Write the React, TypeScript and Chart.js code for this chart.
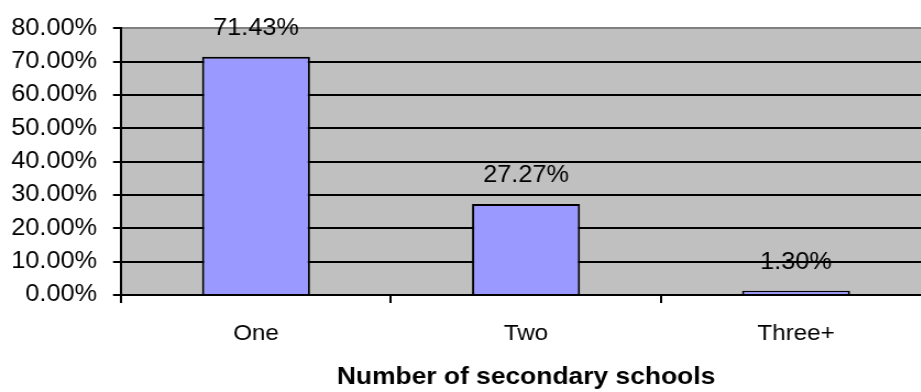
import React, { useEffect, useRef } from "react";
import { Chart, registerables } from "chart.js";

Chart.register(...registerables);

const categories: string[] = ["One", "Two", "Three+"];
const shares: number[] = [0.7143, 0.2727, 0.013];
const valueLabels: string[] = ["71.43%", "27.27%", "1.30%"];
const axisTitle = "Number of secondary schools";

// The chart is drawn on a narrower canvas and widened with a horizontal stretch.
const STRETCH = 1.1;
const CANVAS_W = Math.round(940 / STRETCH);
const CANVAS_H = 392;
const PLOT_LEFT = 121 / STRETCH;
const PLOT_RIGHT = 931 / STRETCH;
const PLOT_TOP = 20;
const PLOT_BOTTOM = 295;
const FONT = "'Liberation Sans', Arial, sans-serif";

// Grey plot background behind the bars
const plotBackground = {
  id: "plotBackground",
  beforeDraw(chart: any) {
    const { ctx, chartArea } = chart;
    ctx.save();
    ctx.fillStyle = "#C0C0C0";
    ctx.fillRect(chartArea.left, chartArea.top, chartArea.right - chartArea.left, chartArea.bottom - chartArea.top);
    ctx.restore();
  },
};

// Percentage labels above each bar
const valueLabelPlugin = {
  id: "valueLabels",
  afterDatasetsDraw(chart: any) {
    const { ctx } = chart;
    const meta = chart.getDatasetMeta(0);
    ctx.save();
    ctx.fillStyle = "#000";
    ctx.font = `23px ${FONT}`;
    ctx.textAlign = "center";
    ctx.textBaseline = "middle";
    meta.data.forEach((bar: any, i: number) => {
      ctx.fillText(valueLabels[i], bar.x, bar.y - 28);
    });
    ctx.restore();
  },
};

export default function App() {
  const ref = useRef<HTMLCanvasElement | null>(null);

  useEffect(() => {
    if (!ref.current) return;
    const chart = new Chart(ref.current, {
      type: "bar",
      data: {
        labels: categories,
        datasets: [
          {
            data: shares,
            backgroundColor: "#9999FF",
            borderColor: "#000",
            borderWidth: 2,
            categoryPercentage: 1,
            barPercentage: 0.4,
          },
        ],
      },
      plugins: [plotBackground, valueLabelPlugin],
      options: {
        responsive: false,
        animation: false,
        layout: { padding: { top: PLOT_TOP, right: CANVAS_W - PLOT_RIGHT, left: 0, bottom: 0 } },
        plugins: { legend: { display: false }, tooltip: { enabled: false }, title: { display: false } },
        scales: {
          x: {
            offset: true,
            grid: {
              offset: true,
              drawOnChartArea: false,
              drawTicks: true,
              tickLength: 8,
              tickColor: "#000",
              lineWidth: 2,
            },
            border: { color: "#000", width: 2 },
            ticks: { color: "#000", font: { family: FONT, size: 22 }, padding: 18 },
            title: {
              display: true,
              text: axisTitle,
              color: "#000",
              font: { family: FONT, size: 24, weight: "bold" },
              padding: { top: 0, bottom: 0 },
            },
            afterFit(scale: any) {
              scale.height = CANVAS_H - PLOT_BOTTOM;
            },
          },
          y: {
            min: 0,
            max: 0.8,
            ticks: {
              stepSize: 0.1,
              color: "#000",
              font: { family: FONT, size: 23 },
              padding: 14.5,
              callback: (v: any) => (Number(v) * 100).toFixed(2) + "%",
            },
            grid: {
              color: (c: any) => (c.tick && Math.abs(c.tick.value - 0.8) < 1e-6 ? "#808080" : "#000"),
              tickColor: "#000",
              lineWidth: 2,
              tickLength: 8 / STRETCH,
            },
            border: { color: "#000", width: 2 },
            afterFit(scale: any) {
              scale.width = PLOT_LEFT;
            },
          },
        },
      },
    });
    return () => chart.destroy();
  }, []);

  return (
    <div style={{ position: "fixed", left: 0, top: 0, width: 921, height: 392, overflow: "hidden", background: "#fff" }}>
      <canvas
        ref={ref}
        width={CANVAS_W}
        height={CANVAS_H}
        style={{
          width: CANVAS_W,
          height: CANVAS_H,
          display: "block",
          transform: `scaleX(${STRETCH})`,
          transformOrigin: "0 0",
        }}
      />
    </div>
  );
}
